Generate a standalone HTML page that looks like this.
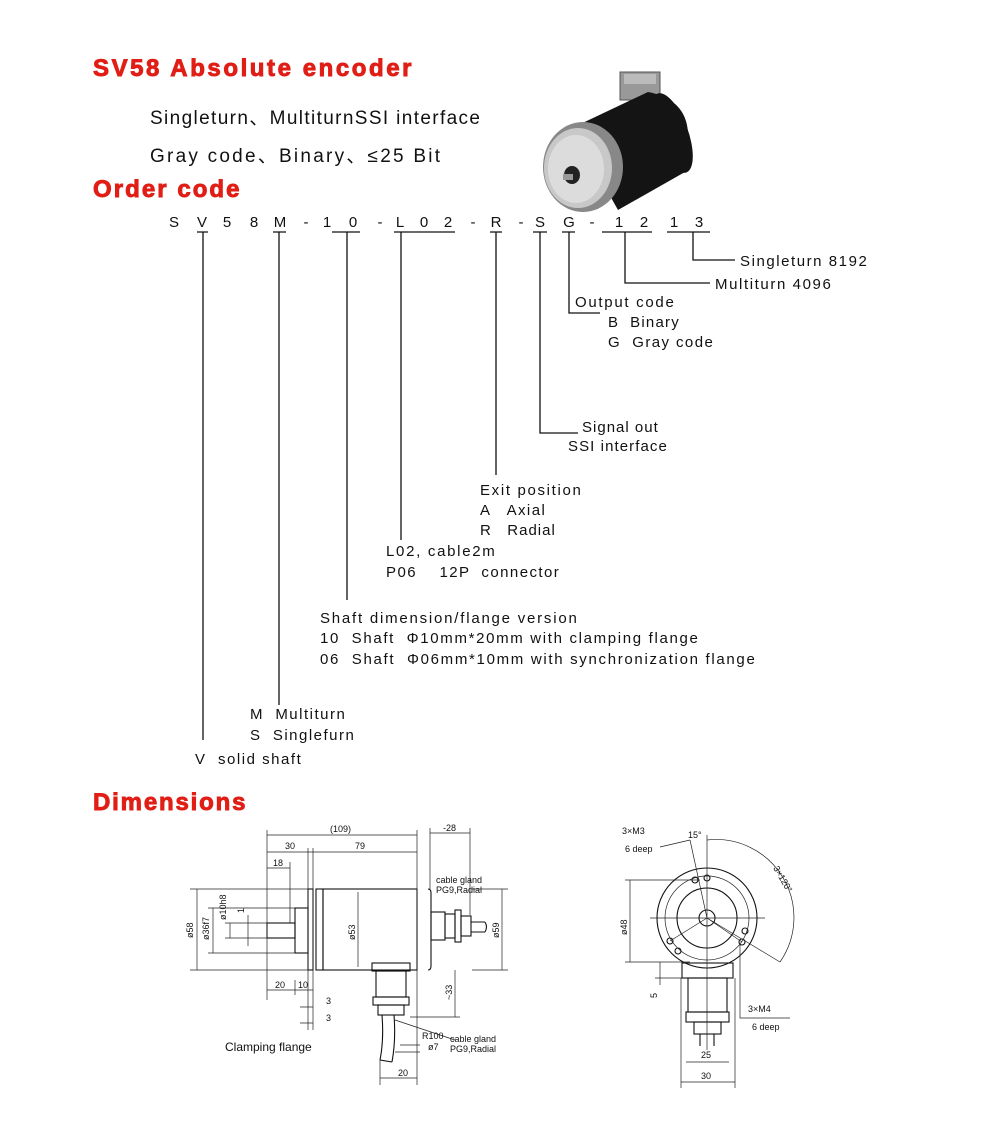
<!DOCTYPE html>
<html><head><meta charset="utf-8"><style>
html,body{margin:0;padding:0;background:#fff}
svg{display:block}
text{font-family:"Liberation Sans","Noto Sans CJK SC",sans-serif;white-space:pre}
.h{fill:#e01e16;font-weight:bold;font-size:24px;letter-spacing:1.5px;stroke:#e01e16;stroke-width:0.9}
.t{font-size:15px;fill:#111;letter-spacing:1.2px}
.s{font-size:9px;fill:#111}
.ln{stroke:#111;stroke-width:1.3;fill:none}
.d{stroke:#222;stroke-width:0.7;fill:none}
.k{stroke:#111;stroke-width:1.1;fill:none}
</style></head><body>
<svg width="984" height="1129" viewBox="0 0 984 1129" xmlns="http://www.w3.org/2000/svg" xml:space="preserve">
<text x="93" y="76" class="h" textLength="320" lengthAdjust="spacing">SV58 Absolute encoder</text>
<text x="150" y="124" style="font-size:19px;fill:#111" textLength="330" lengthAdjust="spacing">Singleturn、MultiturnSSI interface</text>
<text x="150" y="162" style="font-size:19px;fill:#111" textLength="290" lengthAdjust="spacing">Gray code、Binary、≤25 Bit</text>
<text x="93" y="197" class="h" textLength="148" lengthAdjust="spacing">Order code</text>
<text x="93" y="810" class="h" textLength="154" lengthAdjust="spacing">Dimensions</text>

<!-- encoder photo -->
<g>
<rect x="620" y="72" width="40" height="28" fill="#999" stroke="#555"/>
<rect x="624" y="74" width="32" height="10" fill="#bbb"/>
<path d="M572 128 L648 92 Q690 100 688 140 L685 172 L618 210 Z" fill="#141414"/>
<ellipse cx="672" cy="133" rx="16" ry="42" transform="rotate(-20 672 133)" fill="#141414"/>
<ellipse cx="583" cy="167" rx="40" ry="45" fill="#888"/>
<ellipse cx="578" cy="168" rx="34" ry="40" fill="#c8c8c8"/>
<ellipse cx="576" cy="169" rx="28" ry="34" fill="#dcdcdc"/>
<ellipse cx="572" cy="175" rx="8" ry="9" fill="#222"/>
<rect x="563" y="174" width="10" height="6" fill="#999"/>
</g>

<!-- order code -->
<g style="font-size:15px;fill:#111" text-anchor="middle">
<text x="174" y="227">S</text><text x="202" y="227">V</text><text x="227" y="227">5</text><text x="254" y="227">8</text><text x="280" y="227">M</text><text x="306" y="227">-</text><text x="327" y="227">1</text><text x="353" y="227">0</text><text x="380" y="227">-</text><text x="400" y="227">L</text><text x="424" y="227">0</text><text x="448" y="227">2</text><text x="473" y="227">-</text><text x="496" y="227">R</text><text x="521" y="227">-</text><text x="540" y="227">S</text><text x="569" y="227">G</text><text x="592" y="227">-</text><text x="619" y="227">1</text><text x="644" y="227">2</text><text x="674" y="227">1</text><text x="699" y="227">3</text>
</g>
<g class="ln">
<path d="M197 232H208 M273 232H286 M332 232H360 M394 232H455 M490 232H502 M533 232H547 M562 232H575 M602 232H652 M667 232H710"/>
<path d="M203 232V740 M279 232V705 M347 232V600 M401 232V540 M496 232V475 M540 232V433H578 M569 232V313H600 M625 232V283H710 M693 232V260H735"/>
</g>
<g class="t">
<text x="740" y="266" textLength="128" lengthAdjust="spacing">Singleturn 8192</text>
<text x="715" y="289" textLength="117" lengthAdjust="spacing">Multiturn 4096</text>
<text x="575" y="307" textLength="100" lengthAdjust="spacing">Output code</text>
<text x="608" y="327" textLength="72" lengthAdjust="spacing">B  Binary</text>
<text x="608" y="347" textLength="106" lengthAdjust="spacing">G  Gray code</text>
<text x="582" y="432" textLength="77" lengthAdjust="spacing">Signal out</text>
<text x="568" y="451" textLength="100" lengthAdjust="spacing">SSI interface</text>
<text x="480" y="495" textLength="102" lengthAdjust="spacing">Exit position</text>
<text x="480" y="515" textLength="66" lengthAdjust="spacing">A   Axial</text>
<text x="480" y="535" textLength="76" lengthAdjust="spacing">R   Radial</text>
<text x="386" y="556" textLength="110" lengthAdjust="spacing">L02, cable2m</text>
<text x="386" y="577" textLength="174" lengthAdjust="spacing">P06    12P  connector</text>
<text x="320" y="623" textLength="258" lengthAdjust="spacing">Shaft dimension/flange version</text>
<text x="320" y="643" textLength="379" lengthAdjust="spacing">10  Shaft  Φ10mm*20mm with clamping flange</text>
<text x="320" y="664" textLength="436" lengthAdjust="spacing">06  Shaft  Φ06mm*10mm with synchronization flange</text>
<text x="250" y="719" textLength="96" lengthAdjust="spacing">M  Multiturn</text>
<text x="250" y="740" textLength="105" lengthAdjust="spacing">S  Singlefurn</text>
<text x="195" y="764" textLength="107" lengthAdjust="spacing">V  solid shaft</text>
</g>

<!-- left drawing -->
<g class="k">
<rect x="308" y="889" width="5" height="81"/>
<rect x="316" y="889" width="7" height="81"/>
<rect x="323" y="889" width="94" height="81"/>
<rect x="295" y="908" width="13" height="45"/>
<rect x="267" y="923" width="28" height="15"/>
<path d="M428 889 Q431 889 431 893 V966 Q431 970 428 970"/>
<rect x="431" y="912" width="14" height="28"/>
<rect x="445" y="914" width="10" height="24"/>
<rect x="455" y="910" width="6" height="32"/>
<rect x="461" y="916" width="10" height="20"/>
<path d="M471 922H485 M471 932H485 M485 922 Q488 927 485 932"/>
<rect x="372" y="963" width="38" height="8"/>
<rect x="376" y="971" width="30" height="26"/>
<rect x="373" y="997" width="36" height="8"/>
<rect x="378" y="1005" width="26" height="10"/>
<path d="M382 1015 Q384 1040 380 1060 M394 1015 Q396 1040 392 1062 M380 1060 L392 1062"/>
</g>
<g class="d">
<path d="M267 835H417 M267 852H417 M267 868H290 M267 830V1000 M417 830V1085 M308 848V1030 M313 848V1030 M290 862V923"/>
<path d="M430 833H470 M430 828V890 M470 828V915"/>
<path d="M197 889V970 M190 889H308 M190 970H308 M213 908V953 M208 908H295 M208 953H295 M230 923V938 M225 923H267 M225 938H267 M248 915V946"/>
<path d="M358 892V967 M502 889V970 M472 889H508 M472 970H508"/>
<path d="M267 990H313 M295 980V995 M455 970V1017 M410 1017H460"/>
<path d="M300 1007H313 M300 1023H313 M395 1020L455 1040 M400 1045H420 M395 1052H420 M380 1078H417 M380 1060V1085"/>
</g>
<g class="s">
<text x="330" y="832">(109)</text>
<text x="285" y="849">30</text><text x="355" y="849">79</text><text x="273" y="866">18</text>
<text x="443" y="831">-28</text>
<text x="436" y="883">cable gland</text><text x="436" y="893">PG9,Radial</text>
<text x="275" y="988">20</text><text x="298" y="988">10</text>
<text x="326" y="1004">3</text><text x="326" y="1021">3</text>
<text x="422" y="1039">R100</text><text x="428" y="1050">ø7</text>
<text x="450" y="1042">cable gland</text><text x="450" y="1052">PG9,Radial</text>
<text x="398" y="1076">20</text>
<text transform="translate(193,938) rotate(-90)">ø58</text>
<text transform="translate(209,940) rotate(-90)">ø36f7</text>
<text transform="translate(226,920) rotate(-90)">ø10h8</text>
<text transform="translate(244,913) rotate(-90)">1</text>
<text transform="translate(355,940) rotate(-90)">ø53</text>
<text transform="translate(499,938) rotate(-90)">ø59</text>
<text transform="translate(452,1000) rotate(-90)">~33</text>
</g>
<text x="225" y="1051" style="font-size:12px;fill:#111">Clamping flange</text>

<!-- right drawing -->
<g class="k">
<circle cx="707" cy="918" r="50"/>
<circle cx="707" cy="918" r="30"/>
<circle cx="707" cy="918" r="8"/>
<rect x="682" y="963" width="51" height="15"/>
<rect x="688" y="978" width="39" height="34"/>
<rect x="686" y="1012" width="43" height="10"/>
<rect x="694" y="1022" width="27" height="12"/>
<path d="M700 1034V1046 M714 1034V1046"/>
<circle cx="695" cy="880" r="3"/><circle cx="707" cy="878" r="3"/>
<circle cx="670" cy="941" r="3"/><circle cx="678" cy="951" r="3"/>
<circle cx="745" cy="931" r="3"/><circle cx="742" cy="942" r="3"/>
</g>
<g class="d">
<circle cx="707" cy="918" r="42"/>
<path d="M707 835V1050 M650 918H765 M707 918L690 840 M707 918L670 941 M707 918L742 942 M707 918L780 962"/>
<path d="M707 840 A78 78 0 0 1 780 962"/>
<path d="M630 880V962 M625 880H700 M625 962H690 M660 962V985 M655 962H682 M655 978H682"/>
<path d="M686 1062H729 M681 1082H735 M681 978V1088 M735 978V1088 M740 945V1018H790"/>
<path d="M660 847L690 840"/>
</g>
<g class="s">
<text x="622" y="834">3×M3</text><text x="625" y="852">6 deep</text>
<text x="688" y="838">15°</text>
<text transform="translate(773,868) rotate(60)">3×120°</text>
<text transform="translate(627,935) rotate(-90)">ø48</text>
<text transform="translate(657,998) rotate(-90)">5</text>
<text x="748" y="1012">3×M4</text><text x="752" y="1030">6 deep</text>
<text x="701" y="1058">25</text><text x="701" y="1079">30</text>
</g>
</svg>
</body></html>
